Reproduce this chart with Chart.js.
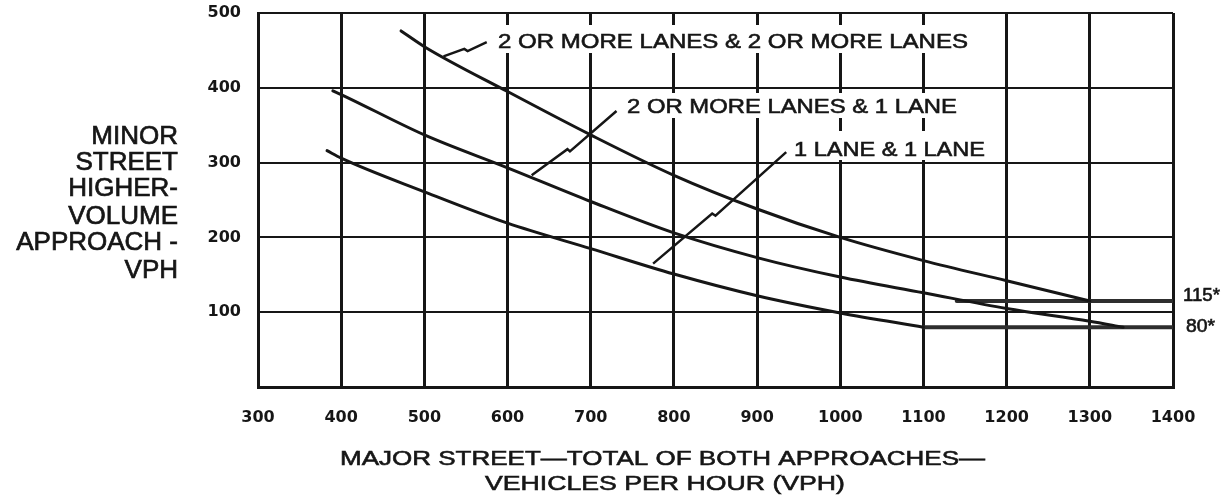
<!DOCTYPE html>
<html lang="en">
<head>
<meta charset="utf-8">
<title>Minor Street vs Major Street Volume</title>
<script src="https://cdn.jsdelivr.net/npm/chart.js@4.4.1/dist/chart.umd.min.js"></script>
<style>
    html, body { margin: 0; padding: 0; background: #ffffff; }
    #wrap { width: 1223px; height: 503px; }
</style>
</head>
<body>
<div id="wrap"><canvas id="volumeChart" width="1223" height="503"></canvas></div>
<script>
// 축 눈금
const xTicks = [300, 400, 500, 600, 700, 800, 900, 1000, 1100, 1200, 1300, 1400];
const yTicks = [0, 100, 200, 300, 400, 500];

// 곡선 데이터
const twoTwoX = [472, 500, 600, 700, 800, 900, 1000, 1100, 1200, 1300];
const twoTwoY = [476, 455, 395, 337, 283, 238, 200, 169, 142, 115];

const twoOneX = [390, 400, 500, 600, 700, 800, 900, 1000, 1100, 1200, 1300, 1340];
const twoOneY = [396, 391, 337, 293, 248, 206, 173, 147, 126, 105, 88, 80];

const oneOneX = [383, 400, 500, 600, 700, 800, 900, 1000, 1100];
const oneOneY = [316, 306, 261, 219, 185, 151, 122, 99, 80];

// 하한선 (115 / 80)
const limit115X = [1140, 1400];
const limit115Y = [115, 115];
const limit80X = [1100, 1400];
const limit80Y = [80, 80];

// 라벨 지시선
const leaderOneX = [523, 548, 552, 575];
const leaderOneY = [442, 452, 449, 461];
const leaderTwoX = [629, 672, 675, 731];
const leaderTwoY = [283, 318, 315, 369];
const leaderThreeX = [775, 846, 850, 935];
const leaderThreeY = [165, 232, 229, 314];

const INK = '#161616';
const TEXT_FONT = '"Liberation Sans", Arial, sans-serif';
const TICK_FONT = '"DejaVu Sans", sans-serif';

function toPoints(xs, ys) {
    return xs.map((x, i) => ({ x: x, y: ys[i] }));
}

function curveDataset(label, xs, ys, width, color) {
    return {
        label: label,
        data: toPoints(xs, ys),
        borderColor: color || INK,
        borderWidth: width,
        pointRadius: 0,
        fill: false,
        cubicInterpolationMode: 'monotone',
        borderCapStyle: 'round'
    };
}

function leaderDataset(label, xs, ys) {
    return {
        label: label,
        data: toPoints(xs, ys),
        borderColor: INK,
        borderWidth: 2.5,
        pointRadius: 0,
        fill: false,
        tension: 0
    };
}

/**
 * 가로로 늘린 텍스트 그리기 (원본 글자가 옆으로 넓고 굵음)
 */
function drawWideText(ctx, text, left, baseline, size, width) {
    ctx.save();
    ctx.font = size + 'px ' + TEXT_FONT;
    ctx.fillStyle = INK;
    ctx.strokeStyle = INK;
    ctx.lineWidth = 0.6;
    ctx.textAlign = 'left';
    ctx.textBaseline = 'alphabetic';
    const natural = ctx.measureText(text).width;
    ctx.translate(left, baseline);
    ctx.scale(width / natural, 1);
    ctx.fillText(text, 0, 0);
    ctx.strokeText(text, 0, 0);
    ctx.restore();
}

// 곡선 라벨: [텍스트, 왼쪽, 기준선, 글자크기, 폭, 배경박스]
const curveLabels = [
    ['2 OR MORE LANES & 2 OR MORE LANES', 498, 47.5, 21, 470, [492, 25, 482, 28]],
    ['2 OR MORE LANES & 1 LANE', 627, 113.3, 21, 330, [620, 93, 343, 25]],
    ['1 LANE & 1 LANE', 794, 155.5, 21, 191, [789, 131, 203, 29]]
];

const yTitleLines = ['MINOR', 'STREET', 'HIGHER-', 'VOLUME', 'APPROACH -', 'VPH'];
const yTitleBaselines = [144, 169.5, 196, 223.5, 250, 278];

const labelPlugin = {
    id: 'labelPlugin',
    beforeDatasetsDraw(chart) {
        // 라벨 뒤 격자선 가리기
        const ctx = chart.ctx;
        ctx.save();
        ctx.fillStyle = '#ffffff';
        curveLabels.forEach(l => {
            const b = l[5];
            ctx.fillRect(b[0], b[1], b[2], b[3]);
        });
        ctx.restore();
    },
    afterDatasetsDraw(chart) {
        const ctx = chart.ctx;
        curveLabels.forEach(l => drawWideText(ctx, l[0], l[1], l[2], l[3], l[4]));

        // 하한값 표시
        drawWideText(ctx, '115*', 1183, 300.7, 18, 37);
        drawWideText(ctx, '80*', 1186, 331.7, 18, 29);

        // y축 제목 (오른쪽 정렬, 가로 배치)
        ctx.save();
        ctx.font = '26px ' + TEXT_FONT;
        ctx.fillStyle = INK;
        ctx.strokeStyle = INK;
        ctx.lineWidth = 0.7;
        ctx.textAlign = 'right';
        ctx.textBaseline = 'alphabetic';
        yTitleLines.forEach((line, i) => {
            ctx.fillText(line, 178, yTitleBaselines[i]);
            ctx.strokeText(line, 178, yTitleBaselines[i]);
        });
        ctx.restore();

        // x축 제목
        drawWideText(ctx, 'MAJOR STREET\u2014TOTAL OF BOTH APPROACHES\u2014', 340, 465, 21, 645);
        drawWideText(ctx, 'VEHICLES PER HOUR (VPH)', 485, 489.5, 21, 360);
    }
};

const ctx = document.getElementById('volumeChart').getContext('2d');
const volumeChart = new Chart(ctx, {
    type: 'line',
    data: {
        datasets: [
            curveDataset('2 OR MORE LANES & 2 OR MORE LANES', twoTwoX, twoTwoY, 3),
            curveDataset('2 OR MORE LANES & 1 LANE', twoOneX, twoOneY, 3),
            curveDataset('1 LANE & 1 LANE', oneOneX, oneOneY, 3),
            curveDataset('115', limit115X, limit115Y, 4, '#2e2e2e'),
            curveDataset('80', limit80X, limit80Y, 4, '#2e2e2e'),
            leaderDataset('leader 1', leaderOneX, leaderOneY),
            leaderDataset('leader 2', leaderTwoX, leaderTwoY),
            leaderDataset('leader 3', leaderThreeX, leaderThreeY)
        ]
    },
    options: {
        responsive: false,
        animation: false,
        devicePixelRatio: 1,
        layout: { padding: { top: 13, right: 50, bottom: 0, left: 0 } },
        plugins: {
            legend: { display: false },
            tooltip: { enabled: false }
        },
        scales: {
            x: {
                type: 'linear',
                min: 300,
                max: 1400,
                afterBuildTicks: scale => { scale.ticks = xTicks.map(v => ({ value: v })); },
                afterFit: scale => { scale.height = 116; },
                grid: { color: INK, lineWidth: 3, drawTicks: false },
                border: { display: true, color: INK, width: 3 },
                ticks: {
                    padding: 21,
                    color: INK,
                    maxRotation: 0,
                    font: { family: TICK_FONT, size: 16, weight: 'bold' },
                    callback: v => String(v)
                }
            },
            y: {
                type: 'linear',
                min: 0,
                max: 500,
                afterBuildTicks: scale => { scale.ticks = yTicks.map(v => ({ value: v })); },
                afterFit: scale => {
                    // 눈금 라벨 여백이 위쪽 영역을 밀어내지 않도록
                    scale.width = 258;
                    scale.paddingTop = 0;
                    scale.paddingBottom = 0;
                },
                grid: { color: INK, lineWidth: 2, drawTicks: false },
                border: { display: true, color: INK, width: 3 },
                ticks: {
                    padding: 17,
                    color: INK,
                    font: { family: TICK_FONT, size: 16, weight: 'bold' },
                    callback: v => (v === 0 ? '' : String(v))
                }
            }
        }
    },
    plugins: [labelPlugin]
});
</script>
</body>
</html>
